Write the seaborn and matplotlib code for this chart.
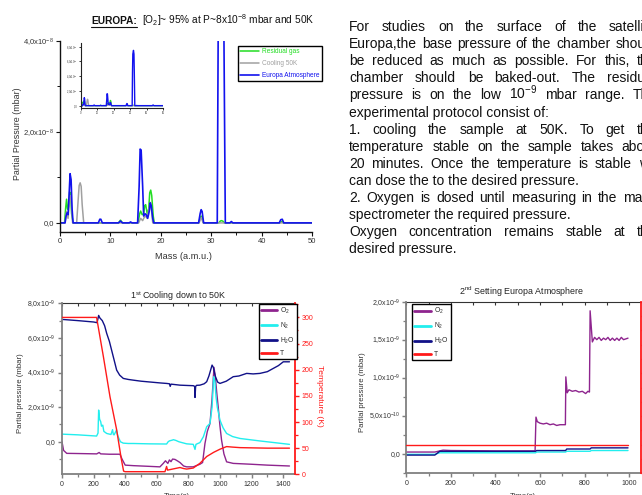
import matplotlib
matplotlib.use('Agg')
import matplotlib.pyplot as plt
import seaborn as sns
from matplotlib.lines import Line2D
from matplotlib.ticker import MultipleLocator, FixedLocator, FixedFormatter

# ---------------- data ----------------
# mass spectrum (x10^-8 mbar)
mass_europa = [0, 1.0, 1.2, 1.4, 1.6, 1.8, 2.0, 2.2, 2.4, 2.6, 7.6, 7.9, 8.1, 8.4, 11.6, 12.0, 12.4,
               13.7, 14.0, 14.3, 15.4, 15.7, 15.9, 16.1, 16.4, 16.6, 16.9, 17.1, 17.4, 17.7, 17.9, 18.1,
               18.4, 18.6, 27.5, 27.8, 28.0, 28.2, 28.5, 31.2, 31.4, 31.6, 32.0, 32.3, 32.5, 32.8, 33.7,
               34.0, 34.3, 43.5, 43.8, 44.1, 44.4, 50]
p_europa = [0, 0, 0.15, 0.22, 0.18, 0.6, 1.08, 0.95, 0.3, 0, 0, 0.08, 0.08, 0, 0, 0.04, 0,
            0, 0.02, 0, 0, 0.8, 1.62, 1.6, 0.8, 0.15, 0.2, 0.18, 0.1, 0.25, 0.44, 0.38,
            0.1, 0, 0, 0.2, 0.29, 0.25, 0, 0, 4.5, 7.0, 7.5, 7.0, 4.5, 0, 0,
            0.03, 0, 0, 0.07, 0.08, 0, 0]
mass_residual = [0, 0.9, 1.1, 1.3, 1.5, 1.7, 1.9, 2.1, 2.3, 2.6, 11.6, 12.0, 12.4, 15.5, 15.8, 16.0,
                 16.3, 16.6, 16.8, 17.0, 17.3, 17.6, 17.8, 18.0, 18.2, 18.5, 18.7, 27.5, 27.8, 28.0,
                 28.2, 28.5, 31.5, 31.8, 32.0, 32.3, 32.6, 43.6, 44.0, 44.4, 50]
p_residual = [0, 0, 0.3, 0.52, 0.3, 0.35, 0.68, 0.65, 0.2, 0, 0, 0.06, 0, 0, 0.2, 0.26,
              0.18, 0.2, 0.38, 0.4, 0.2, 0.3, 0.66, 0.72, 0.6, 0.15, 0, 0, 0.1, 0.15,
              0.12, 0, 0, 0.04, 0.05, 0.04, 0, 0, 0.03, 0, 0]
mass_cooling = [0, 1.0, 1.3, 1.6, 1.8, 2.0, 2.2, 2.5, 3.3, 3.6, 3.8, 4.0, 4.2, 4.4, 4.7, 15.6, 16.0,
                16.4, 16.7, 17.0, 17.3, 17.6, 18.0, 18.4, 27.6, 28.0, 28.4, 50]
p_cooling = [0, 0, 0.25, 0.1, 0.4, 0.6, 0.5, 0, 0, 0.5, 0.82, 0.88, 0.8, 0.4, 0, 0, 0.1,
             0.05, 0.12, 0.15, 0.1, 0.3, 0.45, 0, 0, 0.12, 0, 0]
spec_labels = ['Residual gas', 'Cooling 50K', 'Europa Atmosphere']

# first cooling (x10^-9 mbar, K)
t_h2o = [0, 100, 200, 222, 232, 240, 255, 270, 283, 300, 325, 346, 365, 388, 420, 451, 500, 560, 620,
         662, 680, 685, 690, 747, 800, 831, 840, 842, 846, 852, 873, 900, 916, 930, 950, 958, 970, 985,
         1000, 1040, 1084, 1120, 1169, 1210, 1253, 1300, 1338, 1370, 1401, 1440]
p_h2o = [7.07, 7.0, 6.92, 6.88, 7.3, 7.15, 7.0, 6.7, 6.26, 5.8, 4.9, 4.14, 3.85, 3.66, 3.6, 3.56, 3.5,
         3.45, 3.4, 3.37, 3.35, 3.2, 3.33, 3.27, 3.25, 3.24, 3.2, 2.56, 3.2, 3.26, 3.27, 3.35, 3.47, 3.8,
         4.43, 4.3, 3.8, 3.45, 3.37, 3.5, 3.76, 3.8, 3.95, 3.92, 3.95, 4.05, 4.24, 4.4, 4.62, 4.62]
t_o2 = [0, 10, 30, 100, 220, 235, 245, 300, 367, 380, 400, 451, 550, 620, 641, 655, 670, 680, 690, 700,
        715, 730, 747, 770, 789, 831, 850, 873, 890, 905, 920, 937, 950, 962, 970, 980, 989, 1000, 1010,
        1025, 1042, 1084, 1200, 1300, 1440]
p_o2 = [0.0, -0.5, -0.67, -0.68, -0.7, -0.62, -0.7, -0.72, -0.72, -1.0, -1.35, -1.38, -1.42, -1.45,
        -1.25, -1.1, -1.25, -1.05, -1.15, -1.0, -1.02, -1.1, -1.2, -1.4, -1.45, -1.45, -1.38, -1.3, -1.2,
        -0.1, 0.6, 1.06, 2.5, 4.3, 3.8, 2.8, 2.0, 0.9, 0.1, -0.7, -1.16, -1.25, -1.3, -1.35, -1.4]
t_n2 = [0, 100, 219, 228, 232, 238, 245, 250, 258, 265, 283, 310, 320, 325, 330, 345, 350, 355, 370,
        388, 420, 451, 550, 662, 672, 680, 700, 705, 720, 740, 760, 789, 831, 842, 848, 860, 873, 895,
        916, 937, 950, 960, 968, 975, 983, 1000, 1020, 1042, 1080, 1127, 1250, 1440]
p_n2 = [0.44, 0.4, 0.33, 0.5, 1.83, 1.3, 1.16, 0.9, 0.96, 0.6, 0.48, 0.42, 0.7, 0.42, 0.4, 0.68, 0.45,
        0.3, 0.0, -0.08, -0.1, -0.1, -0.12, -0.13, 0.0, 0.05, 0.1, 0.12, 0.08, 0.0, -0.05, -0.12, -0.15,
        -0.44, -0.15, -0.1, -0.05, 0.29, 0.87, 1.06, 2.0, 3.76, 3.5, 2.6, 2.0, 1.25, 0.8, 0.48, 0.3, 0.19,
        0.05, -0.15]
t_temp = [0, 219, 262, 304, 346, 375, 390, 400, 500, 652, 662, 668, 700, 747, 770, 789, 831, 873, 916,
          960, 1000, 1042, 1080, 1127, 1300, 1440]
temp = [300, 300, 225, 148, 85, 30, 6, 5, 5, 5, 15, 8, 10, 13, 11, 10, 12, 21, 34, 42, 48, 53, 52, 51,
        50, 50]

# setting Europa atmosphere (x10^-9 mbar, K)
s_o2 = [0, 128, 165, 200, 400, 578, 582, 588, 600, 615, 630, 645, 660, 675, 690, 705, 714, 716, 722,
        730, 745, 760, 775, 790, 805, 815, 822, 825, 835, 845, 855, 865, 875, 885, 895, 905, 915, 925,
        935, 945, 955, 965, 975, 985, 995]
q_o2 = [0.02, 0.02, 0.045, 0.04, 0.035, 0.035, 0.48, 0.42, 0.40, 0.39, 0.40, 0.38, 0.39, 0.37, 0.38,
        0.38, 0.38, 1.01, 0.80, 0.84, 0.82, 0.83, 0.81, 0.82, 0.79, 0.82, 0.81, 1.88, 1.47, 1.53, 1.50,
        1.53, 1.49, 1.52, 1.50, 1.53, 1.49, 1.52, 1.49, 1.52, 1.49, 1.53, 1.50, 1.51, 1.52]
s_steps = [0, 128, 150, 580, 585, 715, 720, 825, 830, 995]
q_n2 = [-0.01, -0.01, 0.01, 0.01, 0.02, 0.02, 0.03, 0.03, 0.04, 0.04]
q_h2o = [-0.02, -0.02, 0.03, 0.03, 0.04, 0.04, 0.06, 0.06, 0.075, 0.075]
s_temp = [0, 995]
q_temp = [50, 50]

gas_labels = ['O$_2$', 'N$_2$', 'H$_2$O', 'T']

para_lines = [
    'For studies on the surface of the satellite',
    'Europa,the base pressure of the chamber should',
    'be reduced as much as possible. For this, the',
    'chamber should be baked-out. The residual',
    'pressure is on the low 10$^{-9}$ mbar range.  The',
    'experimental protocol consist of:',
    '1. cooling the sample at 50K. To get the',
    'temperature stable on the sample takes about',
    '20 minutes. Once the temperature is stable we',
    'can dose the to the desired pressure.',
    '2. Oxygen is dosed until measuring in the mass',
    'spectrometer the required pressure.',
    'Oxygen concentration remains stable at the',
    'desired pressure.',
]
para_justify = [True, True, True, True, True, False, True, True, True, False, True, False, True, False]

# ---------------- style ----------------
sns.set_style('ticks')
plt.rcParams['font.family'] = ['Liberation Sans', 'DejaVu Sans']
plt.rcParams['mathtext.fontset'] = 'custom'
plt.rcParams['mathtext.rm'] = 'Liberation Sans'
plt.rcParams['mathtext.it'] = 'Liberation Sans:italic'
plt.rcParams['mathtext.bf'] = 'Liberation Sans:bold'

FW, FH = 642, 495
fig = plt.figure(figsize=(FW / 100, FH / 100), dpi=100)
fig.patch.set_facecolor('white')

c_green, c_grey, c_blue = '#22dd22', '#a0a0a0', '#1212ee'
c_o2, c_n2, c_h2o, c_t = '#8e248e', '#22eeee', '#111188', '#ff1a1a'


def px_axes(x0, y0, x1, y1):
    # pixel box (top-left origin) -> axes
    return fig.add_axes([x0 / FW, 1 - y1 / FH, (x1 - x0) / FW, (y1 - y0) / FH])


def origin_style(ax, color, lw, size=5):
    ax.set_facecolor('none')
    ax.spines['top'].set_visible(False)
    ax.spines['right'].set_visible(False)
    for s in ['left', 'bottom']:
        ax.spines[s].set_color(color)
        ax.spines[s].set_linewidth(lw)
    ax.tick_params(which='major', direction='out', length=3, width=lw * 0.8, color=color,
                   labelsize=size, pad=1.5, labelcolor='#333333')
    ax.tick_params(which='minor', direction='out', length=2, width=lw * 0.7, color=color)


def line(ax, x, y, color, lw=1.0):
    sns.lineplot(x=x, y=y, ax=ax, color=color, linewidth=lw, estimator=None, sort=False)
    return ax.lines[-1]


# ---------------- top-left: mass spectrum ----------------
ax = px_axes(60, 40.7, 312, 232)
origin_style(ax, '#111111', 1.0, 5.5)
h1 = line(ax, mass_residual, p_residual, c_green, 1.1)
h2 = line(ax, mass_cooling, p_cooling, c_grey, 1.1)
h3 = line(ax, mass_europa, p_europa, c_blue, 1.2)
ax.set_xlim(0, 50)
ax.set_ylim(-0.2, 4.0)
ax.xaxis.set_major_locator(MultipleLocator(10))
ax.xaxis.set_minor_locator(MultipleLocator(5))
ax.yaxis.set_major_locator(FixedLocator([0, 2, 4]))
ax.yaxis.set_major_formatter(FixedFormatter(['0,0', '2,0x10$^{-8}$', '4,0x10$^{-8}$']))
ax.yaxis.set_minor_locator(FixedLocator([1, 3]))
ax.set_xlabel('')
ax.set_ylabel('')
leg = ax.legend([h1, h2, h3], spec_labels, loc='upper left',
                bbox_to_anchor=(238 / FW, 1 - 46 / FH), bbox_transform=fig.transFigure,
                fontsize=4.7, frameon=True, fancybox=False, framealpha=1, edgecolor='black',
                handlelength=2.8, handletextpad=0.5, labelspacing=0.75, borderpad=0.35,
                borderaxespad=0)
leg.get_frame().set_linewidth(1.0)
for txt, hl in zip(leg.get_texts(), leg.get_lines()):
    txt.set_color(hl.get_color())

# inset
ins = px_axes(81, 43, 163, 107.5)
origin_style(ins, '#222222', 0.8, 1.8)
ins.set_facecolor('white')
line(ins, mass_residual, p_residual, c_green, 0.9)
line(ins, mass_cooling, p_cooling, c_grey, 0.9)
line(ins, mass_europa, p_europa, c_blue, 1.0)
ins.set_xlim(0, 50)
ins.set_ylim(-0.25, 8.5)
ins.xaxis.set_major_locator(MultipleLocator(10))
ins.yaxis.set_major_locator(FixedLocator([0, 2, 4, 6, 8]))
ins.yaxis.set_major_formatter(FixedFormatter(['0,0', '2,0x10$^{-8}$', '4,0x10$^{-8}$',
                                              '6,0x10$^{-8}$', '8,0x10$^{-8}$']))
ins.tick_params(which='major', length=1.5, pad=0.8)
ins.set_xlabel('')
ins.set_ylabel('')

fig.text(18 / FW, 1 - 134 / FH, 'Partial Pressure (mbar)', rotation=90, ha='center', va='center',
         fontsize=6.4, color='#333333')
fig.text(183.5 / FW, 1 - 256.7 / FH, 'Mass (a.m.u.)', ha='center', va='center', fontsize=6.7,
         color='#333333')

# ---------------- bottom-left: first cooling ----------------
bl = px_axes(62, 303.3, 295, 474.3)
origin_style(bl, '#808080', 1.3, 5)
g1 = line(bl, t_o2, p_o2, c_o2, 1.0)
g2 = line(bl, t_n2, p_n2, c_n2, 1.0)
g3 = line(bl, t_h2o, p_h2o, c_h2o, 1.0)
bl.set_xlim(0, 1475)
bl.set_ylim(-1.88, 8.0)
bl.xaxis.set_major_locator(MultipleLocator(200))
bl.xaxis.set_minor_locator(MultipleLocator(100))
bl.yaxis.set_major_locator(FixedLocator([0, 2, 4, 6, 8]))
bl.yaxis.set_major_formatter(FixedFormatter(['0,0', '2,0x10$^{-9}$', '4,0x10$^{-9}$',
                                             '6,0x10$^{-9}$', '8,0x10$^{-9}$']))
bl.yaxis.set_minor_locator(MultipleLocator(1))
bl.set_xlabel('')
bl.set_ylabel('')
top = bl.secondary_xaxis('top')
top.xaxis.set_major_locator(MultipleLocator(100))
top.tick_params(direction='in', length=2.5, width=0.8, color='#333333', labeltop=False)
top.spines['top'].set_color('#333333')
top.spines['top'].set_linewidth(0.8)

bt = bl.twinx()
bt.set_facecolor('none')
g4 = line(bt, t_temp, temp, c_t, 1.0)
bt.set_ylim(0, 327)
bt.set_ylabel('')
for s in ['top', 'left', 'bottom']:
    bt.spines[s].set_visible(False)
bt.spines['right'].set_color(c_t)
bt.spines['right'].set_linewidth(1.3)
bt.yaxis.set_major_locator(MultipleLocator(50))
bt.yaxis.set_minor_locator(MultipleLocator(25))
bt.tick_params(which='major', direction='out', length=3, width=1, color=c_t, labelsize=5,
               labelcolor=c_t, pad=1.5)
bt.tick_params(which='minor', direction='out', length=2, width=0.9, color=c_t)
leg = bt.legend([g1, g2, g3, g4], gas_labels, loc='upper left',
                bbox_to_anchor=(259 / FW, 1 - 303.5 / FH), bbox_transform=fig.transFigure,
                fontsize=4.9, frameon=True, fancybox=False, framealpha=1, edgecolor='black',
                handlelength=2.4, handletextpad=0.4, labelspacing=0.7, borderpad=0.3,
                borderaxespad=0)
leg.get_frame().set_linewidth(1.0)
for hl in leg.get_lines():
    hl.set_linewidth(2.0)

fig.text(21 / FW, 1 - 393 / FH, 'Partial pressure (mbar)', rotation=90, ha='center', va='center',
         fontsize=5.6, color='#333333')
fig.text(320 / FW, 1 - 396 / FH, 'Temperature (K)', rotation=270, ha='center', va='center',
         fontsize=6.1, color=c_t)
fig.text(178 / FW, 1 - 299 / FH, '1$^{\\mathregular{st}}$ Cooling down to 50K', ha='center',
         va='baseline', fontsize=6.4, color='#222222')
fig.text(177 / FW, 1 - 492.5 / FH, 'Time(s)', ha='center', va='top', fontsize=5.6, color='#333333')

# ---------------- bottom-right: setting Europa atmosphere ----------------
br = px_axes(406.3, 301.7, 640.7, 473.3)
origin_style(br, '#808080', 1.3, 5)
k1 = line(br, s_o2, q_o2, c_o2, 1.0)
k2 = line(br, s_steps, q_n2, c_n2, 1.0)
k3 = line(br, s_steps, q_h2o, c_h2o, 1.0)
br.set_xlim(0, 1052)
br.set_ylim(-0.26, 2.0)
br.xaxis.set_major_locator(MultipleLocator(200))
br.xaxis.set_minor_locator(MultipleLocator(100))
br.yaxis.set_major_locator(FixedLocator([0, 0.5, 1.0, 1.5, 2.0]))
br.yaxis.set_major_formatter(FixedFormatter(['0,0', '5,0x10$^{-10}$', '1,0x10$^{-9}$',
                                             '1,5x10$^{-9}$', '2,0x10$^{-9}$']))
br.yaxis.set_minor_locator(MultipleLocator(0.25))
br.set_xlabel('')
br.set_ylabel('')
top = br.secondary_xaxis('top')
top.xaxis.set_major_locator(MultipleLocator(100))
top.tick_params(direction='in', length=2.5, width=0.8, color='#333333', labeltop=False)
top.spines['top'].set_color('#333333')
top.spines['top'].set_linewidth(0.8)

brt = br.twinx()
brt.set_facecolor('none')
k4 = line(brt, s_temp, q_temp, c_t, 1.0)
brt.set_ylim(0, 300)
brt.set_ylabel('')
for s in ['top', 'left', 'bottom']:
    brt.spines[s].set_visible(False)
brt.spines['right'].set_color(c_t)
brt.spines['right'].set_linewidth(1.3)
brt.yaxis.set_major_locator(MultipleLocator(50))
brt.yaxis.set_minor_locator(MultipleLocator(25))
# temperature labels of this panel fall outside the picture, only the ticks show
brt.tick_params(which='major', direction='out', length=3, width=1, color=c_t, labelright=False)
brt.tick_params(which='minor', direction='out', length=2, width=0.9, color=c_t)
leg = brt.legend([k1, k2, k3, k4], gas_labels, loc='upper left',
                 bbox_to_anchor=(411.7 / FW, 1 - 304 / FH), bbox_transform=fig.transFigure,
                 fontsize=4.9, frameon=True, fancybox=False, framealpha=1, edgecolor='black',
                 handlelength=2.6, handletextpad=0.4, labelspacing=0.7, borderpad=0.3,
                 borderaxespad=0)
leg.get_frame().set_linewidth(1.0)
for hl in leg.get_lines():
    hl.set_linewidth(2.0)

fig.text(363 / FW, 1 - 392.5 / FH, 'Partial pressure (mbar)', rotation=90, ha='center',
         va='center', fontsize=5.6, color='#333333')
fig.text(522 / FW, 1 - 295 / FH, '2$^{\\mathregular{nd}}$ Setting Europa Atmosphere', ha='center',
         va='baseline', fontsize=6.4, color='#222222')
fig.text(523 / FW, 1 - 492.5 / FH, 'Time(s)', ha='center', va='top', fontsize=5.6, color='#333333')

# ---------------- titles and paragraph ----------------
t1 = fig.text(91 / FW, 1 - 24 / FH, 'EUROPA:', fontsize=7.3, weight='bold', va='baseline',
              color='#111111')
fig.canvas.draw()
renderer = fig.canvas.get_renderer()
bb = t1.get_window_extent(renderer)
fig.text((bb.x1 + 5) / FW, 1 - 24 / FH, '[O$_2$]~ 95% at P~8x10$^{-8}$ mbar and 50K', fontsize=7.3,
         va='baseline', color='#111111')
fig.add_artist(Line2D([bb.x0 / FW, bb.x1 / FW], [1 - 26.5 / FH] * 2, color='#111111', lw=0.8))

text_x0, text_y0, text_dy, box_w = 349.3, 31, 17.1, 307
for i, (txt, just) in enumerate(zip(para_lines, para_justify)):
    yb = 1 - (text_y0 + i * text_dy) / FH
    if not just:
        fig.text(text_x0 / FW, yb, txt, fontsize=10, va='baseline', ha='left', color='#111111')
        continue
    words = txt.split()
    arts = [fig.text(0, yb, w, fontsize=10, va='baseline', ha='left', color='#111111') for w in words]
    widths = [a.get_window_extent(renderer).width for a in arts]
    gap = (box_w - sum(widths)) / (len(words) - 1)
    x = text_x0
    for a, w in zip(arts, widths):
        a.set_x(x / FW)
        x += w + gap

fig.savefig('out.png', dpi=100)
